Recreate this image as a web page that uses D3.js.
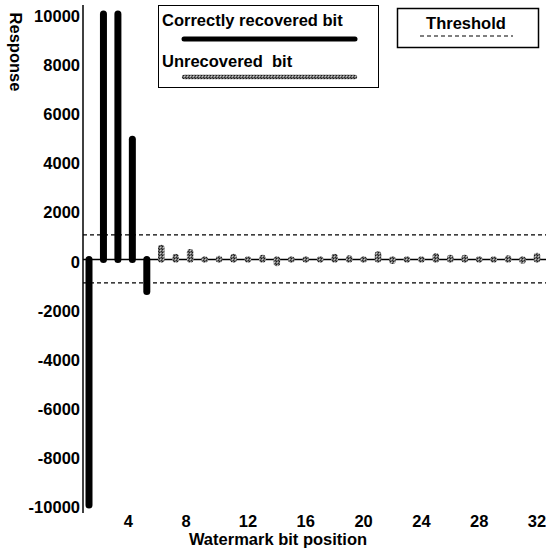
<!DOCTYPE html>
<html lang="en">
<head>
  <meta charset="UTF-8">
  <title>Watermark bit response</title>
  <style>
    * {box-sizing: border-box;}
    html, body {
      margin: 0;
      padding: 0;
      background: #fff;
    }
    svg text {
      font-family: "Liberation Sans", Arial, sans-serif;
      font-weight: bold;
      font-size: 16.5px;
      fill: #000;
      white-space: pre;
    }
  </style>
</head>
<body>
  <svg id="chart"></svg>

  <script src="https://d3js.org/d3.v7.min.js"></script>
  <script>
    // bits 1-5 were recovered, 6-32 were not
    const correctBits = [1, 2, 3, 4, 5]
    const correctValues = [-10000, 10000, 10000, 4900, -1300]
    const unrecoveredBits = [6, 7, 8, 9, 10, 11, 12, 13, 14, 15, 16, 17, 18, 19,
      20, 21, 22, 23, 24, 25, 26, 27, 28, 29, 30, 31, 32]
    const unrecoveredValues = [470, 100, 300, 0, 20, 100, 0, 60, -140, 0, 0, 0, 100, 40,
      0, 200, -50, 0, 0, 130, 60, 60, 0, 0, 40, -40, 140]
    const thresholds = [1000, -950]
    const yTicks = [10000, 8000, 6000, 4000, 2000, 0, -2000, -4000, -6000, -8000, -10000]
    const xTicks = [4, 8, 12, 16, 20, 24, 28, 32]

    const width = 546
    const height = 551

    const x = d3.scaleLinear().domain([1, 32]).range([89, 537])
    const y = d3.scaleLinear().domain([-10000, 10000]).range([505, 14])

    const svg = d3.select('#chart')
      .attr('width', width)
      .attr('height', height)

    // grey speckled fill for the unrecovered marks
    const pat = svg.append('defs').append('pattern')
      .attr('id', 'hatch')
      .attr('patternUnits', 'userSpaceOnUse')
      .attr('width', 3)
      .attr('height', 3)
    pat.append('rect').attr('width', 3).attr('height', 3).attr('fill', '#707070')
    pat.append('rect').attr('width', 1).attr('height', 1).attr('fill', '#1a1a1a')
    pat.append('rect').attr('x', 2).attr('y', 2).attr('width', 1).attr('height', 1).attr('fill', '#2a2a2a')
    pat.append('rect').attr('x', 1).attr('y', 1).attr('width', 1).attr('height', 1).attr('fill', '#c8c8c8')

    // y axis line
    svg.append('line')
      .attr('x1', 83).attr('x2', 83)
      .attr('y1', 5).attr('y2', 513)
      .attr('stroke', '#000').attr('stroke-width', 1.5)

    // y tick labels
    svg.append('g').selectAll('text')
      .data(yTicks)
      .join('text')
      .attr('x', 80)
      .attr('y', d => y(d) + 8)
      .attr('text-anchor', 'end')
      .text(d => d)

    // x tick labels
    svg.append('g').selectAll('text')
      .data(xTicks)
      .join('text')
      .attr('x', d => x(d) - (d < 10 ? 4 : 0))
      .attr('y', 527)
      .attr('text-anchor', 'middle')
      .text(d => d)

    svg.append('text')
      .attr('x', 278).attr('y', 545)
      .attr('text-anchor', 'middle')
      .text('Watermark bit position')

    svg.append('text')
      .attr('transform', 'translate(10,52) rotate(90)')
      .attr('text-anchor', 'middle')
      .text('Response')

    // zero line
    svg.append('line')
      .attr('x1', 83).attr('x2', width)
      .attr('y1', y(0)).attr('y2', y(0))
      .attr('stroke', '#000').attr('stroke-width', 1.5)

    // threshold lines
    svg.append('g').selectAll('line')
      .data(thresholds)
      .join('line')
      .attr('x1', 83).attr('x2', width)
      .attr('y1', d => y(d)).attr('y2', d => y(d))
      .attr('stroke', '#000').attr('stroke-width', 1.2)
      .attr('stroke-dasharray', '4,3')

    // unrecovered bits
    svg.append('g').selectAll('path')
      .data(unrecoveredBits)
      .join('path')
      .attr('d', (d, i) => `M${x(d)},${y(0)}L${x(d)},${y(unrecoveredValues[i]) + 0.01}`)
      .attr('stroke', 'url(#hatch)')
      .attr('stroke-width', 6.5)
      .attr('stroke-linecap', 'round')
      .attr('fill', 'none')

    // correctly recovered bits
    svg.append('g').selectAll('line')
      .data(correctBits)
      .join('line')
      .attr('x1', d => x(d)).attr('x2', d => x(d))
      .attr('y1', y(0))
      .attr('y2', (d, i) => y(correctValues[i]))
      .attr('stroke', '#000')
      .attr('stroke-width', 7)
      .attr('stroke-linecap', 'round')

    // legend: series
    const leg = svg.append('g')
    leg.append('rect')
      .attr('x', 158.5).attr('y', 5.5)
      .attr('width', 220).attr('height', 82)
      .attr('fill', '#fff').attr('stroke', '#000').attr('stroke-width', 1)
    leg.append('text').attr('x', 162).attr('y', 26).text('Correctly recovered bit')
    leg.append('line')
      .attr('x1', 184).attr('x2', 355).attr('y1', 39).attr('y2', 39)
      .attr('stroke', '#000').attr('stroke-width', 5).attr('stroke-linecap', 'round')
    leg.append('text').attr('x', 162).attr('y', 67).text('Unrecovered  bit')
    leg.append('line')
      .attr('x1', 184).attr('x2', 355).attr('y1', 77).attr('y2', 77)
      .attr('stroke', 'url(#hatch)').attr('stroke-width', 4.5).attr('stroke-linecap', 'round')

    // legend: threshold
    const leg2 = svg.append('g')
    leg2.append('rect')
      .attr('x', 397.5).attr('y', 8.5)
      .attr('width', 141).attr('height', 39)
      .attr('fill', '#fff').attr('stroke', '#000').attr('stroke-width', 1.5)
    leg2.append('text').attr('x', 466).attr('y', 29).attr('text-anchor', 'middle').text('Threshold')
    leg2.append('line')
      .attr('x1', 420).attr('x2', 513).attr('y1', 36).attr('y2', 36)
      .attr('stroke', '#000').attr('stroke-width', 1.2).attr('stroke-dasharray', '4,3')
  </script>
</body>
</html>
